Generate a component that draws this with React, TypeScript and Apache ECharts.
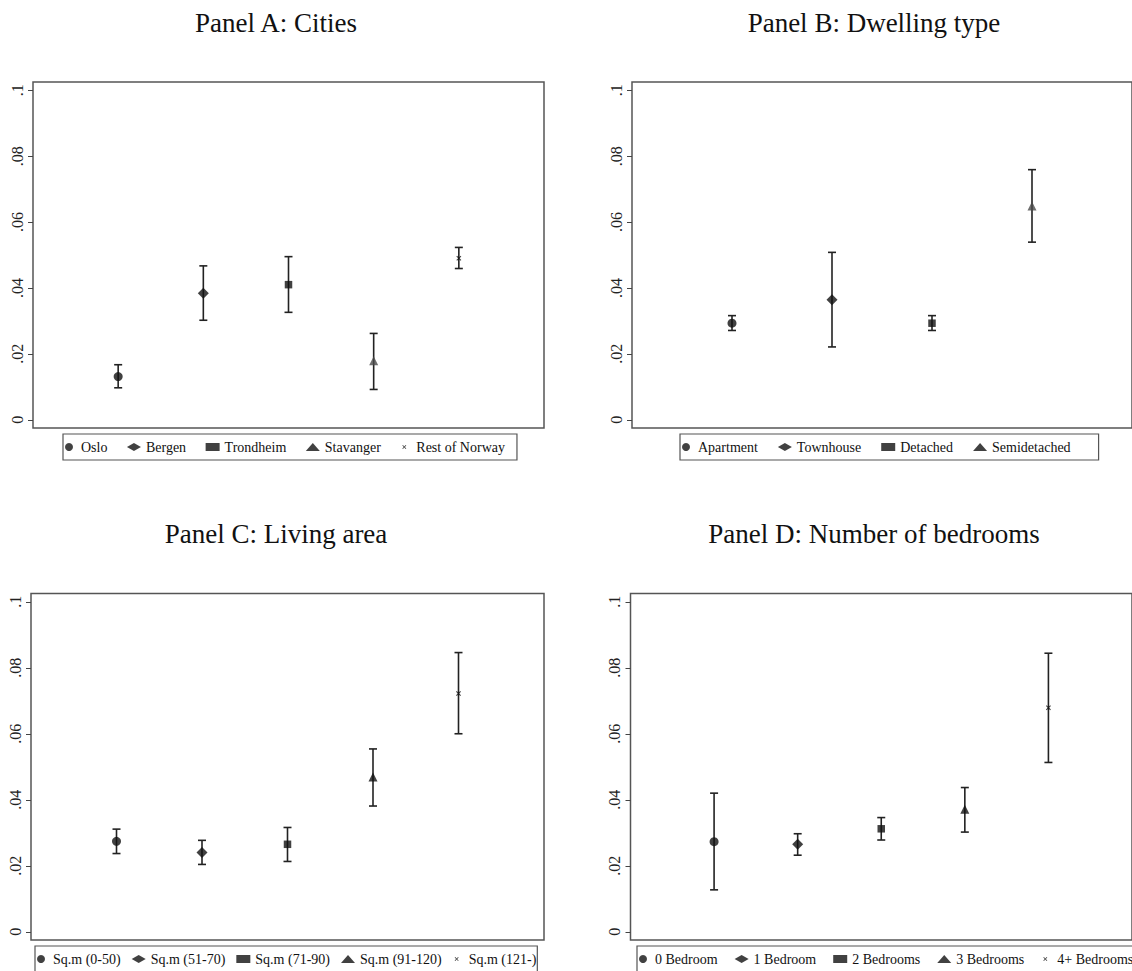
import React, { useEffect, useRef } from "react";
import * as echarts from "echarts";

// ---------- data ----------
const yTicks = [0, 0.02, 0.04, 0.06, 0.08, 0.1];

const citiesLabels = ["Oslo", "Bergen", "Trondheim", "Stavanger", "Rest of Norway"];
const citiesEst = [0.0131, 0.0384, 0.041, 0.0179, 0.049];
const citiesLo = [0.0097, 0.0302, 0.0326, 0.0092, 0.0459];
const citiesHi = [0.0167, 0.0467, 0.0495, 0.0262, 0.0523];

const dwellingLabels = ["Apartment", "Townhouse", "Detached", "Semidetached"];
const dwellingEst = [0.0293, 0.0364, 0.0293, 0.0649];
const dwellingLo = [0.0271, 0.0221, 0.0271, 0.0539];
const dwellingHi = [0.0316, 0.0508, 0.0316, 0.0759];

const areaLabels = ["Sq.m (0-50)", "Sq.m (51-70)", "Sq.m (71-90)", "Sq.m (91-120)", "Sq.m (121-)"];
const areaEst = [0.0274, 0.024, 0.0265, 0.0469, 0.0722];
const areaLo = [0.0237, 0.0204, 0.0213, 0.0381, 0.06];
const areaHi = [0.0311, 0.0277, 0.0316, 0.0554, 0.0846];

const bedLabels = ["0 Bedroom", "1 Bedroom", "2 Bedrooms", "3 Bedrooms", "4+ Bedrooms"];
const bedEst = [0.0273, 0.0265, 0.0312, 0.0371, 0.0679];
const bedLo = [0.0127, 0.0232, 0.0278, 0.0302, 0.0513];
const bedHi = [0.042, 0.0297, 0.0346, 0.0437, 0.0844];

// ---------- styling / layout ----------
const SERIF = '"Liberation Serif", "Times New Roman", Times, serif';
const CROSS =
  "path://M0,0h0.05v0.05h-0.05Z M20,20h-0.05v-0.05h0.05Z " +
  "M5,6.5L6.5,5L15,13.5L13.5,15Z M13.5,5L15,6.5L6.5,15L5,13.5Z";
const SYMBOLS = ["circle", "diamond", "rect", "triangle", CROSS];
const SIZES = [9, 11, 7.5, 9, 10];

const panels = [
  {
    title: "Panel A: Cities",
    labels: citiesLabels, est: citiesEst, lo: citiesLo, hi: citiesHi,
    xMax: 6,
    grid: { left: 33, top: 82, width: 511, height: 346 },
    titlePos: [276, 23],
    legend: { left: 63, top: 434, padding: [6, 12, 6, 2], itemGap: 19.5 },
    grayTri: true,
  },
  {
    title: "Panel B: Dwelling type",
    labels: dwellingLabels, est: dwellingEst, lo: dwellingLo, hi: dwellingHi,
    xMax: 5,
    grid: { left: 632, top: 82, width: 511, height: 346 },
    titlePos: [874, 23],
    legend: { left: 680, top: 434, padding: [6, 28, 6, 2], itemGap: 20 },
    grayTri: true,
  },
  {
    title: "Panel C: Living area",
    labels: areaLabels, est: areaEst, lo: areaLo, hi: areaHi,
    xMax: 6,
    grid: { left: 31, top: 593.5, width: 513, height: 346.5 },
    titlePos: [276, 534],
    legend: { left: 35, top: 946, padding: [6, 1, 6, 2], itemGap: 11 },
    grayTri: false,
  },
  {
    title: "Panel D: Number of bedrooms",
    labels: bedLabels, est: bedEst, lo: bedLo, hi: bedHi,
    xMax: 6,
    grid: { left: 630.5, top: 593.5, width: 513, height: 346.5 },
    titlePos: [874, 534],
    legend: { left: 637, top: 946, padding: [6, 1, 6, 2], itemGap: 17 },
    grayTri: false,
  },
];

const fmt = (v: number) => (v === 0 ? "0" : String(+v.toFixed(2)).replace(/^0/, ""));

function buildOption() {
  const grid: any[] = [];
  const xAxis: any[] = [];
  const yAxis: any[] = [];
  const series: any[] = [];
  const legend: any[] = [];
  const graphic: any[] = [];

  panels.forEach((p, pi) => {
    grid.push({
      ...p.grid,
      show: true,
      borderColor: "#555",
      borderWidth: 1.5,
      backgroundColor: "#fff",
    });
    xAxis.push({ type: "value", gridIndex: pi, min: 0, max: p.xMax, show: false });
    yAxis.push({
      type: "value",
      gridIndex: pi,
      min: -0.0025,
      max: 0.1025,
      axisLine: { show: false },
      splitLine: { show: false },
      axisTick: {
        show: true,
        customValues: yTicks,
        length: 5,
        lineStyle: { color: "#444", width: 1 },
      },
      axisLabel: {
        customValues: yTicks,
        rotate: 90,
        margin: 8,
        formatter: fmt,
        fontFamily: SERIF,
        fontSize: 16,
        color: "#222",
      },
    });

    // confidence intervals
    series.push({
      type: "custom",
      name: "ci" + pi,
      xAxisIndex: pi,
      yAxisIndex: pi,
      z: 2,
      data: p.labels.map((_, i) => [i + 1, p.lo[i], p.hi[i]]),
      encode: { x: 0, y: [1, 2] },
      renderItem: (params: any, api: any) => {
        const x = api.value(0);
        const a = api.coord([x, api.value(1)]);
        const b = api.coord([x, api.value(2)]);
        const w = 4;
        const style = { stroke: "#222", lineWidth: 1.6 };
        return {
          type: "group",
          children: [
            { type: "line", shape: { x1: a[0], y1: a[1], x2: b[0], y2: b[1] }, style },
            { type: "line", shape: { x1: a[0] - w, y1: a[1], x2: a[0] + w, y2: a[1] }, style },
            { type: "line", shape: { x1: b[0] - w, y1: b[1], x2: b[0] + w, y2: b[1] }, style },
          ],
        };
      },
    });

    // point estimates
    p.labels.forEach((name, i) => {
      const isTri = SYMBOLS[i] === "triangle";
      series.push({
        type: "scatter",
        name,
        xAxisIndex: pi,
        yAxisIndex: pi,
        z: 3,
        symbol: SYMBOLS[i],
        symbolSize: SIZES[i],
        itemStyle: { color: isTri && p.grayTri ? "#4a4a4a" : "#111" },
        data: [[i + 1, p.est[i]]],
      });
    });

    legend.push({
      ...p.legend,
      orient: "horizontal",
      width: 560,
      data: p.labels.map((name, i) =>
        SYMBOLS[i] === "triangle" ? { name, itemStyle: { color: "#111" } } : name
      ),
      itemWidth: 14,
      itemHeight: 8,
      selectedMode: false,
      borderColor: "#555",
      borderWidth: 1.2,
      borderRadius: 0,
      backgroundColor: "#fff",
      textStyle: { fontFamily: SERIF, fontSize: 14, color: "#111" },
    });

    graphic.push({
      type: "text",
      x: p.titlePos[0],
      y: p.titlePos[1],
      style: {
        text: p.title,
        font: `27px ${SERIF}`,
        fill: "#111",
        textAlign: "center",
        textVerticalAlign: "middle",
      },
    });
  });

  return {
    animation: false,
    backgroundColor: "#fff",
    grid,
    xAxis,
    yAxis,
    series,
    legend,
    graphic,
  };
}

export default function App() {
  const ref = useRef<HTMLDivElement>(null);
  useEffect(() => {
    document.body.style.margin = "0";
    if (!ref.current) return;
    const chart = echarts.init(ref.current, undefined, { renderer: "svg" });
    chart.setOption(buildOption() as any);
    return () => chart.dispose();
  }, []);
  return (
    <div
      ref={ref}
      style={{ position: "absolute", left: 0, top: 0, width: 1132, height: 971, background: "#fff" }}
    />
  );
}
